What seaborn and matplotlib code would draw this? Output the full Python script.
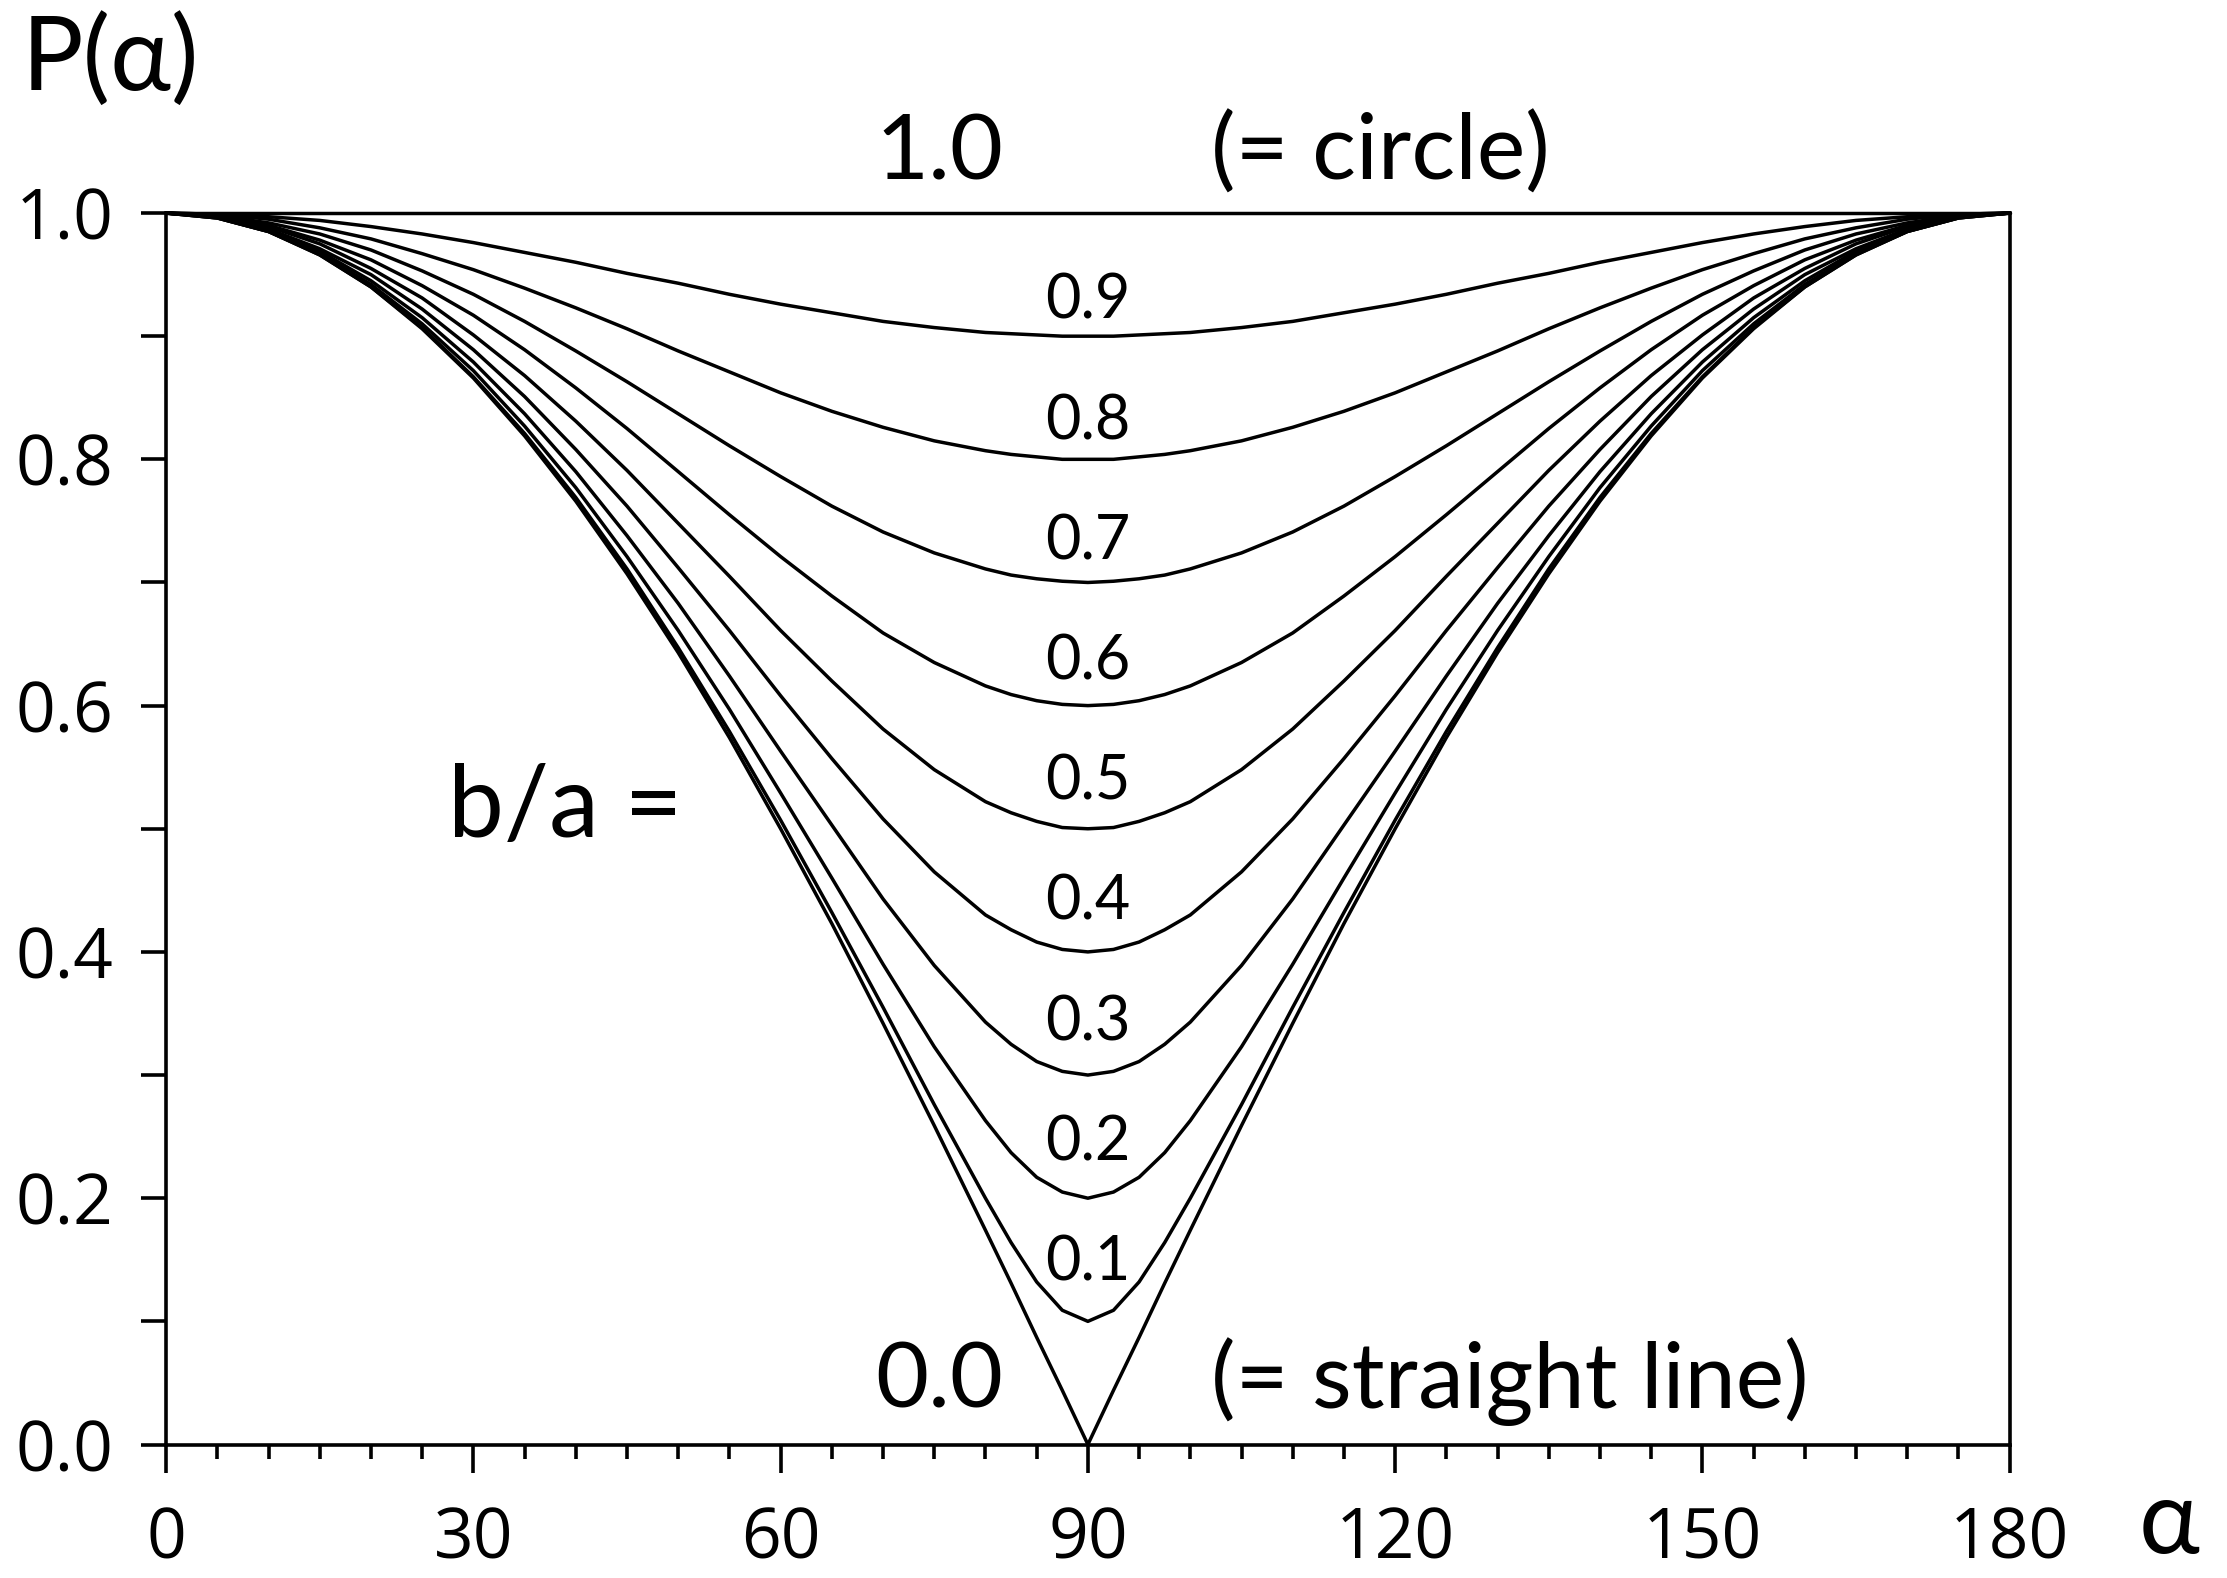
import matplotlib
matplotlib.use("Agg")
import matplotlib.pyplot as plt
from matplotlib.ticker import MultipleLocator
import seaborn as sns
import pandas as pd

# Angle alpha (degrees) at which P(alpha) is tabulated
alpha = [0, 5, 10, 15, 20, 25, 30, 35, 40, 45, 50, 55, 60, 65, 70, 75, 80, 82.5, 85, 87.5,
         90, 92.5, 95, 97.5, 100, 105, 110, 115, 120, 125, 130, 135, 140, 145, 150, 155,
         160, 165, 170, 175, 180]

# P(alpha) for each axis ratio b/a
p_10 = [1.0] * 41
p_09 = [1.000, 0.999, 0.997, 0.994, 0.989, 0.983, 0.976, 0.968, 0.960, 0.951, 0.943, 0.934, 0.926, 0.919,
        0.912, 0.907, 0.903, 0.902, 0.901, 0.900, 0.900, 0.900, 0.901, 0.902, 0.903, 0.907, 0.912, 0.919,
        0.926, 0.934, 0.943, 0.951, 0.960, 0.968, 0.976, 0.983, 0.989, 0.994, 0.997, 0.999, 1.000]
p_08 = [1.000, 0.999, 0.995, 0.988, 0.979, 0.967, 0.954, 0.939, 0.923, 0.906, 0.888, 0.871, 0.854, 0.839,
        0.826, 0.815, 0.807, 0.804, 0.802, 0.800, 0.800, 0.800, 0.802, 0.804, 0.807, 0.815, 0.826, 0.839,
        0.854, 0.871, 0.888, 0.906, 0.923, 0.939, 0.954, 0.967, 0.979, 0.988, 0.995, 0.999, 1.000]
p_07 = [1.000, 0.998, 0.992, 0.983, 0.970, 0.953, 0.934, 0.912, 0.888, 0.863, 0.837, 0.811, 0.786, 0.762,
        0.741, 0.724, 0.711, 0.706, 0.703, 0.701, 0.700, 0.701, 0.703, 0.706, 0.711, 0.724, 0.741, 0.762,
        0.786, 0.811, 0.837, 0.863, 0.888, 0.912, 0.934, 0.953, 0.970, 0.983, 0.992, 0.998, 1.000]
p_06 = [1.000, 0.998, 0.990, 0.978, 0.962, 0.941, 0.917, 0.889, 0.858, 0.825, 0.790, 0.755, 0.721, 0.689,
        0.659, 0.635, 0.616, 0.609, 0.604, 0.601, 0.600, 0.601, 0.604, 0.609, 0.616, 0.635, 0.659, 0.689,
        0.721, 0.755, 0.790, 0.825, 0.858, 0.889, 0.917, 0.941, 0.962, 0.978, 0.990, 0.998, 1.000]
p_05 = [1.000, 0.997, 0.989, 0.975, 0.955, 0.931, 0.901, 0.868, 0.831, 0.791, 0.748, 0.705, 0.661, 0.620,
        0.581, 0.548, 0.522, 0.513, 0.506, 0.501, 0.500, 0.501, 0.506, 0.513, 0.522, 0.548, 0.581, 0.620,
        0.661, 0.705, 0.748, 0.791, 0.831, 0.868, 0.901, 0.931, 0.955, 0.975, 0.989, 0.997, 1.000]
p_04 = [1.000, 0.997, 0.987, 0.971, 0.950, 0.922, 0.889, 0.851, 0.808, 0.762, 0.712, 0.661, 0.608, 0.557,
        0.508, 0.465, 0.430, 0.418, 0.408, 0.402, 0.400, 0.402, 0.408, 0.418, 0.430, 0.465, 0.508, 0.557,
        0.608, 0.661, 0.712, 0.762, 0.808, 0.851, 0.889, 0.922, 0.950, 0.971, 0.987, 0.997, 1.000]
p_03 = [1.000, 0.997, 0.986, 0.969, 0.945, 0.915, 0.879, 0.837, 0.790, 0.738, 0.683, 0.624, 0.563, 0.503,
        0.443, 0.389, 0.343, 0.325, 0.311, 0.303, 0.300, 0.303, 0.311, 0.325, 0.343, 0.389, 0.443, 0.503,
        0.563, 0.624, 0.683, 0.738, 0.790, 0.837, 0.879, 0.915, 0.945, 0.969, 0.986, 0.997, 1.000]
p_02 = [1.000, 0.996, 0.985, 0.967, 0.942, 0.910, 0.872, 0.827, 0.777, 0.721, 0.661, 0.597, 0.529, 0.460,
        0.390, 0.323, 0.263, 0.237, 0.217, 0.205, 0.200, 0.205, 0.217, 0.237, 0.263, 0.323, 0.390, 0.460,
        0.529, 0.597, 0.661, 0.721, 0.777, 0.827, 0.872, 0.910, 0.942, 0.967, 0.985, 0.996, 1.000]
p_01 = [1.000, 0.996, 0.985, 0.966, 0.940, 0.907, 0.867, 0.821, 0.769, 0.711, 0.647, 0.579, 0.507, 0.432,
        0.355, 0.276, 0.200, 0.164, 0.132, 0.109, 0.100, 0.109, 0.132, 0.164, 0.200, 0.276, 0.355, 0.432,
        0.507, 0.579, 0.647, 0.711, 0.769, 0.821, 0.867, 0.907, 0.940, 0.966, 0.985, 0.996, 1.000]
p_00 = [1.000, 0.996, 0.985, 0.966, 0.940, 0.906, 0.866, 0.819, 0.766, 0.707, 0.643, 0.574, 0.500, 0.423,
        0.342, 0.259, 0.174, 0.131, 0.087, 0.044, 0.000, 0.044, 0.087, 0.131, 0.174, 0.259, 0.342, 0.423,
        0.500, 0.574, 0.643, 0.707, 0.766, 0.819, 0.866, 0.906, 0.940, 0.966, 0.985, 0.996, 1.000]

ratios = [1.0, 0.9, 0.8, 0.7, 0.6, 0.5, 0.4, 0.3, 0.2, 0.1, 0.0]
curves = [p_10, p_09, p_08, p_07, p_06, p_05, p_04, p_03, p_02, p_01, p_00]

# Ratios labelled at the bottom of their curve
inner_labels = ["0.9", "0.8", "0.7", "0.6", "0.5", "0.4", "0.3", "0.2", "0.1"]
inner_values = [0.9, 0.8, 0.7, 0.6, 0.5, 0.4, 0.3, 0.2, 0.1]

x_ticks = [0, 30, 60, 90, 120, 150, 180]
y_ticks = [0.0, 0.2, 0.4, 0.6, 0.8, 1.0]

df = pd.concat(
    [pd.DataFrame({"alpha": alpha, "P": vals, "ratio": r}) for r, vals in zip(ratios, curves)],
    ignore_index=True,
)

sns.set_theme(style="ticks")
plt.rcParams["font.family"] = ["Lato", "DejaVu Sans"]

fig = plt.figure(figsize=(22.27, 15.78), dpi=100)
ax = fig.add_axes([0.0746, 0.0846, 0.9024 - 0.0746, 0.865 - 0.0846])

sns.lineplot(data=df, x="alpha", y="P", units="ratio", estimator=None,
             color="black", linewidth=2.5, ax=ax, legend=False)
for ln in ax.lines:
    ln.set_clip_on(False)
    ln.set_solid_joinstyle("round")

ax.set_xlim(0, 180)
ax.set_ylim(0, 1.0)
ax.set_xticks(x_ticks)
ax.set_yticks(y_ticks)
ax.set_xticklabels([str(v) for v in x_ticks])
ax.set_yticklabels([f"{v:.1f}" for v in y_ticks])
ax.xaxis.set_minor_locator(MultipleLocator(5))
ax.yaxis.set_minor_locator(MultipleLocator(0.1))
ax.set_xlabel("")
ax.set_ylabel("")

for side in ["left", "bottom", "right"]:
    ax.spines[side].set_visible(True)
    ax.spines[side].set_linewidth(2.6)
    ax.spines[side].set_color("black")
ax.spines["top"].set_visible(False)

tick_family = ["Open Sans", "DejaVu Sans"]
ax.tick_params(axis="x", which="major", direction="out", length=20, width=2.6,
               pad=24, colors="black", labelsize=50)
ax.tick_params(axis="x", which="minor", direction="out", length=10, width=2.6, colors="black")
ax.tick_params(axis="y", which="both", direction="out", length=18, width=2.6,
               pad=20, colors="black", labelsize=50)
ax.tick_params(axis="y", which="minor", labelleft=False)
for lab in ax.get_xticklabels() + ax.get_yticklabels():
    lab.set_fontfamily(tick_family)

# Curve labels just above each minimum, slightly more spacing toward the bottom
for lab, v in zip(inner_labels, inner_values):
    ax.text(90, v + 0.014 + (0.9 - v) * 0.024, lab, ha="center", va="baseline",
            fontsize=44, color="black")

ax.text(75.5, 1.027, "1.0", ha="center", va="baseline", fontsize=66, color="black")
ax.text(102, 1.027, "(= circle)", ha="left", va="baseline", fontsize=66, color="black")
ax.text(75.5, 0.03, "0.0", ha="center", va="baseline", fontsize=66, color="black")
ax.text(102, 0.03, "(= straight line)", ha="left", va="baseline", fontsize=66, color="black")
ax.text(27.5, 0.493, "b/a =", ha="left", va="baseline", fontsize=72, color="black")

fig.text(0.0096, 0.943, "P(α)", ha="left", va="baseline", fontsize=74, color="black")
fig.text(0.974, 0.016, "α", ha="center", va="baseline", fontsize=74, color="black")

fig.savefig("out.png", dpi=100, facecolor="white")
